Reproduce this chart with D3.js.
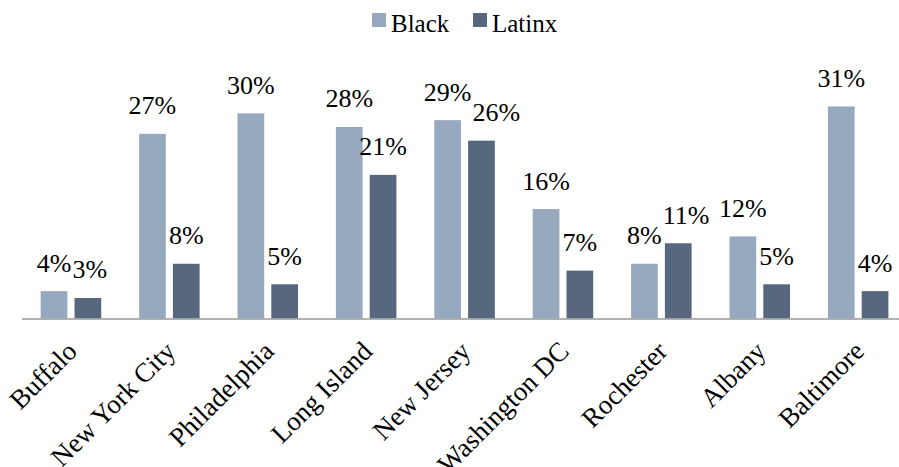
<!DOCTYPE html>
<html lang="en">
<head>
    <meta charset="UTF-8">
    <title>Black and Latinx share by city</title>
    <script src="https://d3js.org/d3.v7.min.js"></script>
    <style>
        html, body {
            margin: 0;
            padding: 0;
            background: #fff;
            overflow: hidden;
        }
    </style>
</head>
<body>
    <script>
        // Data
        const cities = ["Buffalo", "New York City", "Philadelphia", "Long Island", "New Jersey",
                        "Washington DC", "Rochester", "Albany", "Baltimore"];
        const series = ["Black", "Latinx"];
        const black = [4, 27, 30, 28, 29, 16, 8, 12, 31];
        const latinx = [3, 8, 5, 21, 26, 7, 11, 5, 4];
        const colors = ["#97a9be", "#56677e"];

        const width = 899, height = 467;
        const baseline = 318.5;
        const serif = "'Liberation Serif', 'Times New Roman', 'DejaVu Serif', serif";

        const svg = d3.select("body").append("svg")
            .attr("width", width)
            .attr("height", height)
            .attr("font-family", serif);

        const x = d3.scaleBand()
            .domain(cities)
            .range([22, 907.6])
            .paddingInner(0)
            .paddingOuter(0);

        const xInner = d3.scaleBand()
            .domain(series)
            .range([x.bandwidth() * 0.19, x.bandwidth() * 0.805])
            .paddingInner(0.21);

        const y = d3.scaleLinear()
            .domain([0, 35])
            .range([baseline, baseline - 35 * 6.84]);

        const color = d3.scaleOrdinal().domain(series).range(colors);

        const rows = cities.map((c, i) => ({ city: c, values: [black[i], latinx[i]] }));

        // Bars
        const groups = svg.append("g")
            .selectAll("g")
            .data(rows)
            .join("g")
            .attr("transform", d => `translate(${x(d.city)},0)`);

        groups.selectAll("rect")
            .data(d => d.values.map((v, j) => ({ key: series[j], value: v })))
            .join("rect")
            .attr("x", d => xInner(d.key))
            .attr("y", d => y(d.value))
            .attr("width", xInner.bandwidth())
            .attr("height", d => y(0) - y(d.value))
            .attr("fill", d => color(d.key));

        // Value labels, nudging the second one right when the pair collides
        groups.each(function (d) {
            const g = d3.select(this);
            const boxes = [];
            d.values.forEach((v, j) => {
                const t = g.append("text")
                    .attr("x", xInner(series[j]) + xInner.bandwidth() / 2)
                    .attr("y", y(v) - 19.5)
                    .attr("text-anchor", "middle")
                    .attr("font-family", serif)
                    .attr("font-size", 26)
                    .attr("fill", "#000")
                    .text(v + "%");
                boxes.push(t);
            });
            const a = boxes[0].node().getBBox();
            const b = boxes[1].node().getBBox();
            const overlapX = a.x + a.width + 1 - b.x;
            const overlapY = Math.min(a.y + a.height, b.y + b.height) - Math.max(a.y, b.y);
            if (overlapX > 0 && overlapY > 0) {
                boxes[1].attr("x", +boxes[1].attr("x") + overlapX);
            }
        });

        // Axis line
        svg.append("line")
            .attr("x1", x.range()[0])
            .attr("x2", x.range()[1])
            .attr("y1", baseline + 0.5)
            .attr("y2", baseline + 0.5)
            .attr("stroke", "#999")
            .attr("stroke-width", 1.5);

        // Category labels, rotated
        svg.append("g")
            .selectAll("text")
            .data(cities)
            .join("text")
            .attr("transform", d => `translate(${x(d) + x.bandwidth() / 2 - 6},${baseline + 21}) rotate(-45)`)
            .attr("text-anchor", "end")
            .attr("dy", "0.7em")
            .attr("font-family", serif)
            .attr("font-size", 27)
            .attr("fill", "#000")
            .text(d => d);

        // Legend
        const legend = svg.append("g");
        const legendX = [372, 473];
        series.forEach((s, i) => {
            legend.append("rect")
                .attr("x", legendX[i])
                .attr("y", 13)
                .attr("width", 14)
                .attr("height", 14)
                .attr("fill", color(s));
            legend.append("text")
                .attr("x", legendX[i] + 19)
                .attr("y", 32)
                .attr("font-family", serif)
                .attr("font-size", 25)
                .attr("fill", "#000")
                .text(s);
        });
    </script>
</body>
</html>
